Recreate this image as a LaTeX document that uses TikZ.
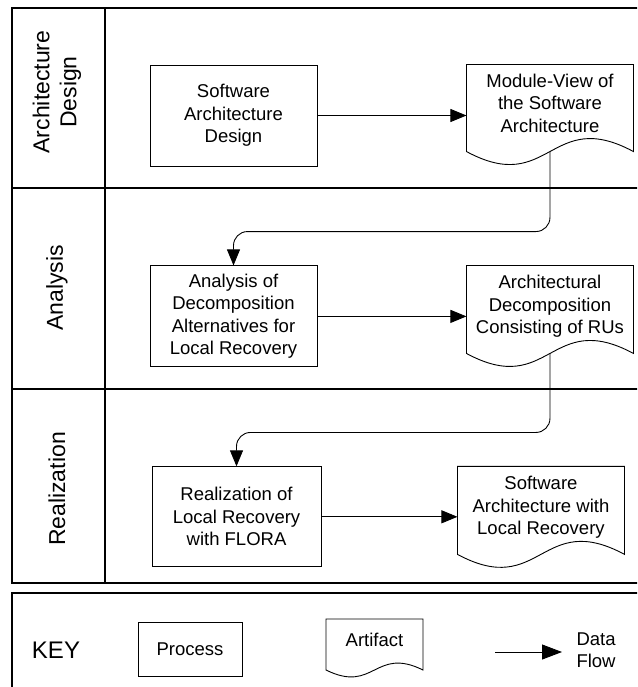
\documentclass[tikz,border=0pt]{standalone}
\usepackage{fontspec}
\setmainfont{Liberation Sans}
\usetikzlibrary{shapes,arrows.meta,positioning,calc}

\tikzset{
  boxtext/.style={font=\fontsize{18.5}{22.5}\selectfont},
  process/.style={draw, rectangle, line width=0.9pt, minimum width=167pt, minimum height=101pt, align=center, boxtext},
  artifact/.style={rectangle, minimum width=167pt, minimum height=87pt, outer sep=0pt, text depth=10pt, align=center, boxtext},
  flow/.style={-{Triangle[length=16pt,width=13pt]}, line width=0.9pt},
  lane/.style={line width=1.2pt},
  lanelabel/.style={rotate=90, align=center, font=\fontsize{23}{27}\selectfont}
}

% outline of an artifact (document with wavy bottom)
\newcommand{\artifactoutline}[2]{%
  \draw[line width=0.9pt] (#1.south west) -- (#1.north west) -- (#1.north east) -- (#1.south east)
    .. controls ([yshift=#2]$(#1.south west)!0.5!(#1.south east)$) and ([yshift=-#2]$(#1.south west)!0.5!(#1.south east)$) .. (#1.south west) -- cycle;}

\begin{document}
\begin{tikzpicture}[x=1pt, y=-1pt]
\useasboundingbox (0,0) rectangle (637,687);
\clip (0,0) rectangle (637,687);

% lanes
\draw[lane] (12,8) rectangle (660,583);
\draw[lane] (105,8) -- (105,583);
\draw[lane] (12,188) -- (660,188);
\draw[lane] (12,389) -- (660,389);
\node[lanelabel] (designlane) at (57,92) {Architecture\\Design};
\node[lanelabel] (analysislane) at (57,288) {Analysis};
\node[lanelabel] (realizationlane) at (57,489) {Realization};

% processes
\node[process] (sad) at (233.5,115.5) {Software\\Architecture\\Design};
\node[process, below=99pt of sad] (ana) {Analysis of\\Decomposition\\Alternatives for\\Local Recovery};
\node[process, below=99pt of ana, xshift=3pt, minimum width=169pt, minimum height=100pt] (real) {Realization of\\Local Recovery\\with FLORA};

% artifacts
\node[artifact, anchor=north west] (mview) at ([xshift=149pt]sad.north east) {Module-View of\\the Software\\Architecture};
\node[artifact, anchor=north west, minimum height=88pt] (decomp) at ([xshift=149pt]ana.north east) {Architectural\\Decomposition\\Consisting of RUs};
\node[artifact, anchor=north west, minimum height=88pt] (result) at ([xshift=136pt]real.north east) {Software\\Architecture with\\Local Recovery};
\artifactoutline{mview}{45pt}
\artifactoutline{decomp}{45pt}
\artifactoutline{result}{45pt}

% data flow
\draw[flow] (sad) -- (sad -| mview.west);
\draw[flow] (ana) -- (ana -| decomp.west);
\draw[flow] (real) -- (real -| result.west);
\draw[flow, rounded corners=14pt] (mview.south) -- ++(0pt,-80pt) -| (ana.north);
\draw[flow, rounded corners=14pt] (decomp.south) -- ++(0pt,-79pt) -| (real.north);

% key
\draw[lane] (12,593) rectangle (660,700);
\node[font=\fontsize{24}{28}\selectfont] (key) at (56,650) {KEY};
\node[process, minimum width=104pt, minimum height=54pt] (keyprocess) at (190,649) {Process};
\node[artifact, minimum width=97pt, minimum height=51pt] (keyartifact) at (374.5,644.5) {Artifact};
\artifactoutline{keyartifact}{24pt}
\coordinate (flowtail) at (495,652);
\coordinate (flowhead) at (562,652);
\draw[flow, -{Triangle[length=20pt,width=15pt]}] (flowtail) -- (flowhead);
\node[anchor=west, align=left, boxtext] (flowlabel) at (573,650) {Data\\Flow};
\end{tikzpicture}
\end{document}
